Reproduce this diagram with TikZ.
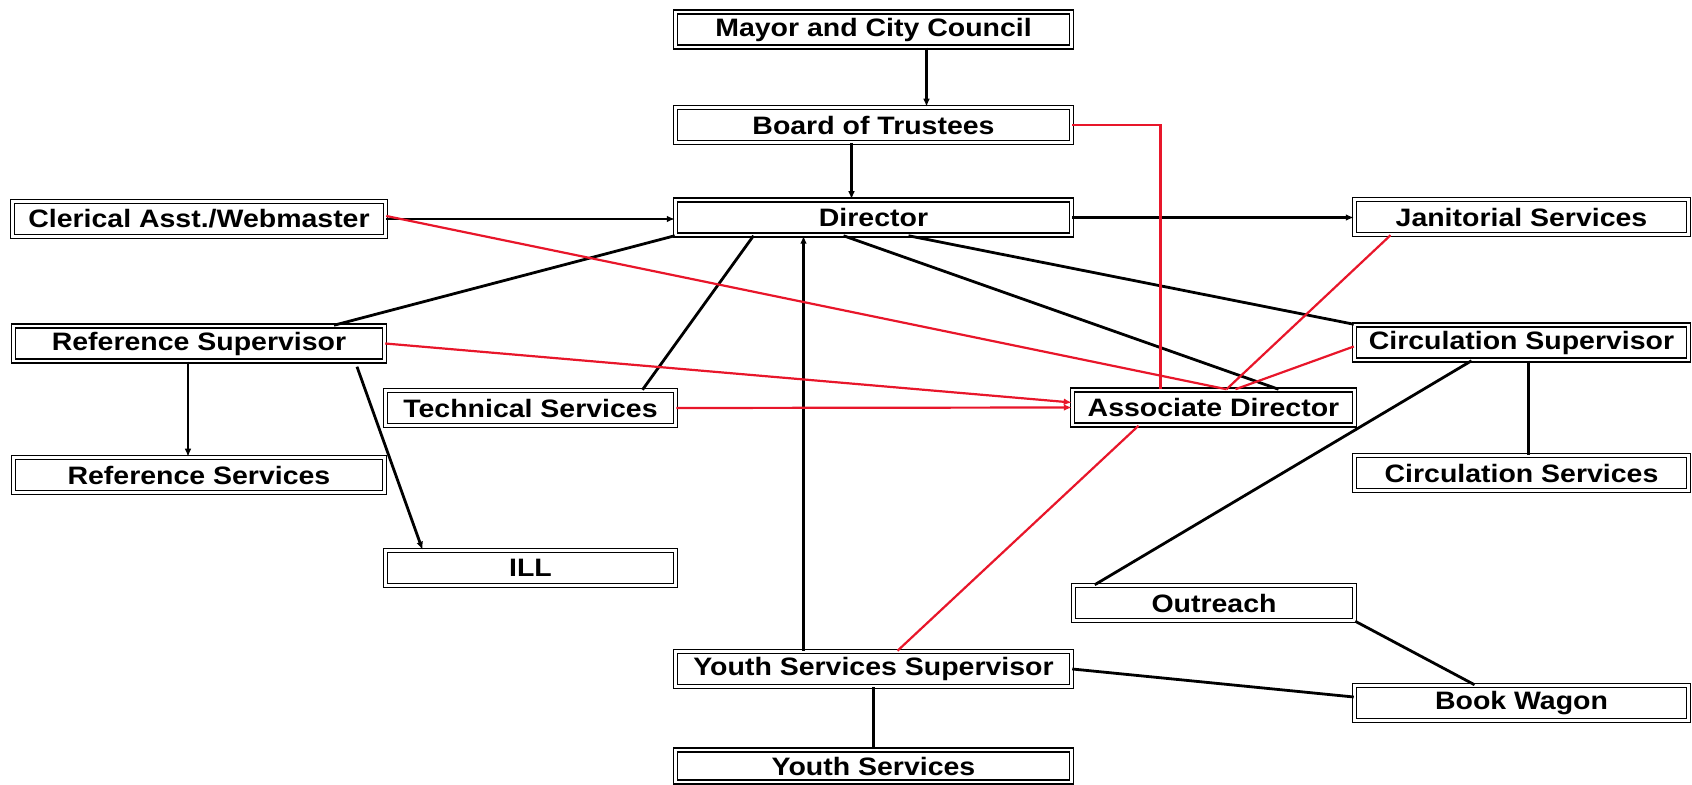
\documentclass[tikz,border=0pt]{standalone}
\usepackage{fontspec}
\newfontfamily\boxfont[FakeStretch=1.13]{Liberation Sans}
\usetikzlibrary{arrows.meta,calc}
\definecolor{linkred}{RGB}{232,22,42}
\tikzset{
  box/.style={draw, double, double distance=1.2pt, line width=0.75pt, fill=white,
    minimum height=17.5pt, inner sep=0pt,
    font=\boxfont\bfseries\fontsize{12.6}{14}\selectfont},
  link/.style={line width=1.4pt},
  redlink/.style={draw=linkred, line width=1.1pt},
  arr/.style={-{Latex[length=4pt,width=3.4pt]}},
}
\begin{document}
\begin{tikzpicture}[x=0.5pt,y=-0.5pt]
\useasboundingbox (0,0) rectangle (1692,785);

% centre column
\node[box, minimum width=198pt] (mayor) at (873.5,29.5) {Mayor and City Council};
\node[box, minimum width=198pt] (board) at (873.5,125) {Board of Trustees};
\node[box, minimum width=198pt] (dir) at (873.5,217.5) {Director};
\node[box, minimum width=198pt] (ysup) at (873.5,669) {Youth Services Supervisor};
\node[box, minimum width=198pt, minimum height=16pt] (yserv) at (873.5,766) {Youth Services};

% left side
\node[box, minimum width=186.5pt] (cler) at (199,219) {Clerical Asst./Webmaster};
\node[box, minimum width=185.5pt] (rsup) at (199,343.5) {Reference Supervisor};
\node[box, minimum width=185.5pt] (rserv) at (199,475) {Reference Services};
\node[box, minimum width=145pt] (tech) at (530.5,408) {Technical Services};
\node[box, minimum width=145pt] (ill) at (530.5,568) {ILL};

% right side
\node[box, minimum width=141pt] (assoc) at (1213.5,407.5) {Associate Director};
\node[box, minimum width=140.5pt] (outr) at (1214,603) {Outreach};
\node[box, minimum width=167pt] (jan) at (1521.5,217) {Janitorial Services};
\node[box, minimum width=167pt] (csup) at (1521.5,342.5) {Circulation Supervisor};
\node[box, minimum width=167pt] (cserv) at (1521.5,473) {Circulation Services};
\node[box, minimum width=167pt] (wagon) at (1521.5,703) {Book Wagon};

% black lines
\path[draw,link,arr] ($(mayor.south)+(53,0)$) -- ($(board.north)+(53,0)$);
\path[draw,link,arr] ($(board.south)+(-22,0)$) -- ($(dir.north)+(-22,0)$);
\path[draw,link,arr] (cler.east) -- (cler.east -| dir.west);
\path[draw,link,arr] (dir.east) -- (dir.east -| jan.west);
\path[draw,link] (dir.south west) -- ($(rsup.north)+(135,0)$);
\path[draw,link] ($(dir.south)+(-120,0)$) -- ($(tech.north)+(112,0)$);
\path[draw,link,arr] ($(ysup.north)+(-70,0)$) -- ($(dir.south)+(-70,0)$);
\path[draw,link] ($(dir.south)+(-30,0)$) -- ($(assoc.north)+(65,0)$);
\path[draw,link] ($(dir.south)+(35,0)$) -- (csup.north west);
\path[draw,link,arr] ($(rsup.south)+(-11,0)$) -- ($(rserv.north)+(-11,0)$);
\path[draw,link,arr] ($(rsup.south)+(158,5)$) -- ($(ill.north)+(-108,0)$);
\path[draw,link] ($(csup.south)+(7,0)$) -- ($(cserv.north)+(7,0)$);
\path[draw,link] ($(csup.south)+(-50,0)$) -- ($(outr.north west)+(22,0)$);
\path[draw,link] (outr.south east) -- ($(wagon.north)+(-47,0)$);
\path[draw,link] (ysup.east) -- ($(wagon.west)+(0,-6)$);
\path[draw,link] (ysup.south) -- (yserv.north);

% red lines
\path[draw,redlink] (board.east) -| ($(assoc.north)+(-53,0)$);
\path[draw,redlink] ($(cler.east)+(0,-3)$) -- ($(assoc.north)+(13,0)$);
\path[draw,redlink,arr] (rsup.east) -- ($(assoc.west)+(0,-5)$);
\path[draw,redlink,arr] (tech.east) -- (assoc.west);
\path[draw,redlink] ($(jan.south)+(-131,0)$) -- ($(assoc.north)+(13,0)$);
\path[draw,redlink] ($(csup.west)+(0,4)$) -- ($(assoc.north)+(22,0)$);
\path[draw,redlink] ($(assoc.south)+(-75,0)$) -- ($(ysup.north)+(24,0)$);
\end{tikzpicture}
\end{document}
